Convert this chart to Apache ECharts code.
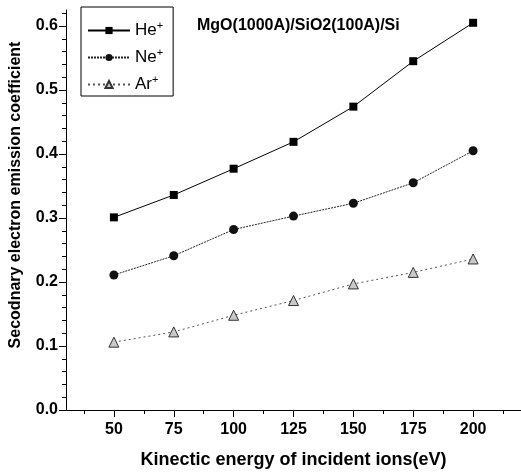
<!DOCTYPE html>
<html>
<head>
<meta charset="utf-8">
<script src="https://cdn.jsdelivr.net/npm/echarts@6/dist/echarts.min.js"></script>
<style>html,body{margin:0;padding:0;background:#fff}#c{width:521px;height:474px}</style>
</head>
<body>
<div id="c"></div>
<script>
const energies = [50, 75, 100, 125, 150, 175, 200];
const heValues = [0.301, 0.336, 0.377, 0.419, 0.474, 0.545, 0.605];
const neValues = [0.211, 0.241, 0.282, 0.303, 0.323, 0.355, 0.405];
const arValues = [0.106, 0.122, 0.148, 0.171, 0.197, 0.215, 0.236];
const xTickLabels = [50, 75, 100, 125, 150, 175, 200];
const xMinorTicks = [37.5, 62.5, 87.5, 112.5, 137.5, 162.5, 187.5, 212.5];
const yTickLabels = [0, 0.1, 0.2, 0.3, 0.4, 0.5, 0.6];
const yMinorTicks = [0.02,0.04,0.06,0.08,0.12,0.14,0.16,0.18,0.22,0.24,0.26,0.28,0.32,0.34,0.36,0.38,0.42,0.44,0.46,0.48,0.52,0.54,0.56,0.58,0.62];
const seriesNames = ['He+', 'Ne+', 'Ar+'];
const chartTitle = 'MgO(1000A)/SiO2(100A)/Si';
const xName = 'Kinectic energy of incident ions(eV)';
const yName = 'Secodnary electron emission coefficient';

const FONT = 'Liberation Sans, Arial, sans-serif';
const pair = vals => energies.map((e, i) => [e, vals[i]]);

const chart = echarts.init(document.getElementById('c'), null, {renderer: 'canvas'});
chart.setOption({
  backgroundColor: '#fff',
  animation: false,
  title: {
    text: chartTitle,
    left: 192, top: 13,
    textStyle: {fontFamily: FONT, fontWeight: 'bold', fontSize: 16, color: '#000'}
  },
  legend: {
    orient: 'vertical',
    left: 81, top: 7,
    padding: [13, 10, 3, 6],
    itemGap: 8,
    itemWidth: 42, itemHeight: 9,
    borderColor: '#000', borderWidth: 1,
    data: seriesNames,
    formatter: n => '{b|' + n.slice(0, -1) + '}{s|+}',
    textStyle: {
      color: '#000', fontFamily: FONT,
      rich: {
        b: {fontSize: 17, fontFamily: FONT, color: '#000'},
        s: {fontSize: 11, fontFamily: FONT, color: '#000', padding: [0, 0, 10, 0]}
      }
    }
  },
  grid: {left: 65, right: 0, top: 10, bottom: 62, containLabel: false},
  xAxis: [{
    type: 'value', min: 30, max: 220,
    name: xName, nameLocation: 'middle', nameGap: 41,
    nameTextStyle: {fontFamily: FONT, fontWeight: 'bold', fontSize: 18, color: '#000'},
    axisLine: {show: true, lineStyle: {color: '#000', width: 1}},
    axisTick: {show: true, inside: false, length: 7, customValues: xTickLabels, lineStyle: {color: '#000'}},
    axisLabel: {show: true, margin: 12, customValues: xTickLabels, fontFamily: FONT, fontWeight: 'bold', fontSize: 16, color: '#000'},
    splitLine: {show: false}
  }, {
    type: 'value', min: 30, max: 220, position: 'bottom', offset: 0,
    axisLine: {show: false},
    axisTick: {show: true, inside: false, length: 4, customValues: xMinorTicks, lineStyle: {color: '#000'}},
    axisLabel: {show: false},
    splitLine: {show: false}
  }],
  yAxis: [{
    type: 'value', min: 0, max: 0.625,
    name: yName, nameLocation: 'middle', nameGap: 42,
    nameTextStyle: {fontFamily: FONT, fontWeight: 'bold', fontSize: 16, color: '#000', padding: [0, 0, 0, 30]},
    axisLine: {show: true, lineStyle: {color: '#000', width: 1}},
    axisTick: {show: true, inside: false, length: 7, customValues: yTickLabels, lineStyle: {color: '#000'}},
    axisLabel: {show: true, margin: 8, customValues: yTickLabels, formatter: v => v.toFixed(1), fontFamily: FONT, fontWeight: 'bold', fontSize: 16, color: '#000'},
    splitLine: {show: false}
  }, {
    type: 'value', min: 0, max: 0.625, position: 'left', offset: 0,
    axisLine: {show: false},
    axisTick: {show: true, inside: false, length: 4, customValues: yMinorTicks, lineStyle: {color: '#000'}},
    axisLabel: {show: false},
    splitLine: {show: false}
  }],
  series: [{
    name: seriesNames[0], type: 'line', xAxisIndex: 0, yAxisIndex: 0,
    data: pair(heValues),
    symbol: 'rect', symbolSize: 8,
    itemStyle: {color: '#000'},
    lineStyle: {color: '#000', width: 1, type: 'solid'}
  }, {
    name: seriesNames[1], type: 'line', xAxisIndex: 0, yAxisIndex: 0,
    data: pair(neValues),
    symbol: 'circle', symbolSize: 9,
    itemStyle: {color: '#111'},
    lineStyle: {color: '#222', width: 1, type: [2, 1]}
  }, {
    name: seriesNames[2], type: 'line', xAxisIndex: 0, yAxisIndex: 0,
    data: pair(arValues),
    symbol: 'triangle', symbolSize: 10,
    itemStyle: {color: '#c8c8c8', borderColor: '#333', borderWidth: 1},
    lineStyle: {color: '#555', width: 1, type: [2, 3]}
  }]
});
</script>
</body>
</html>
